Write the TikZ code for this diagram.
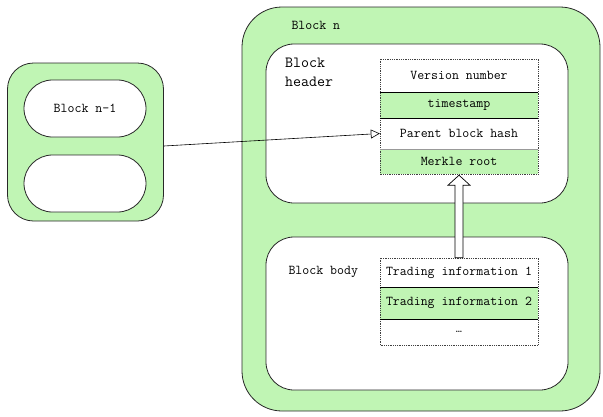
\documentclass[tikz,border=0pt]{standalone}
\usetikzlibrary{arrows.meta,shapes.misc,calc}
\definecolor{blockgreen}{RGB}{192,245,180}
\definecolor{edgegray}{RGB}{40,40,40}
\begin{document}
\begin{tikzpicture}[x=1pt,y=-1pt,
  font=\ttfamily\fontsize{13.5}{18}\selectfont,
  outerbox/.style={draw=edgegray, line width=0.8pt, fill=blockgreen, inner sep=0},
  innerbox/.style={draw=edgegray, line width=0.8pt, fill=white, inner sep=0},
  pill/.style={rounded rectangle, draw=edgegray, line width=0.8pt, fill=white,
    minimum width=122pt, minimum height=57pt, inner sep=0},
  cell/.style={minimum width=158pt, inner sep=0, draw=none},
  greencell/.style={cell, fill=blockgreen},
  tabedge/.style={line width=0.5pt, black!75, dash pattern=on 0.9pt off 0.9pt},
  rowline/.style={line width=0.6pt, black},
  link/.style={line width=0.6pt, -{Triangle[open,length=9pt,width=9pt]}},
  blockarrow/.style={line width=0.7pt, fill=white, line join=miter}
]
\useasboundingbox (0,0) rectangle (603,416);

% previous block
\node[outerbox, rounded corners=26pt, minimum width=156pt, minimum height=158pt] (prev) at (85.5,142) {};
\node[pill] (prevtop) at (85,108.5) {Block n-1};
\node[pill] (prevbot) at (85,183.5) {};

% current block and its two parts
\node[outerbox, rounded corners=40pt, minimum width=358pt, minimum height=404pt] (cur) at (421,209) {};
\node[innerbox, rounded corners=28pt, minimum width=302pt, minimum height=159pt] (header) at (417,123.5) {};
\node[innerbox, rounded corners=28pt, minimum width=302pt, minimum height=153pt] (body) at (417,313.5) {};

\node[anchor=west] (curlabel) at (288,25) {Block n};
\node[anchor=north west, align=left, inner sep=0, font=\ttfamily\fontsize{15.5}{19}\selectfont]
  (headlabel) at (285,58) {Block\\header};
\node[anchor=west] (bodylabel) at (285,272) {Block body};

% header fields
\node[cell, minimum height=33pt] (ver) at (459,75.5) {Version number};
\node[greencell, minimum height=26pt] (ts) at (459,105) {timestamp};
\node[cell, minimum height=31pt] (parent) at (459,133.5) {Parent block hash};
\node[greencell, minimum height=25pt] (merkle) at (459,161.5) {Merkle root};
\draw[tabedge] (ver.north west) rectangle (merkle.south east);
\draw[rowline] (ts.north west) -- (ts.north east);
\draw[rowline] (ts.south west) -- (ts.south east);
\draw[line width=0.4pt, black!40] (merkle.north west) -- (merkle.north east);

% body fields
\node[cell, minimum height=29pt] (tx1) at (459,272.5) {Trading information 1};
\node[greencell, minimum height=32pt] (tx2) at (459,303) {Trading information 2};
\node[cell, minimum height=26pt] (tx3) at (459,332) {\fontsize{12}{12}\selectfont\ldots};
\draw[tabedge] (tx1.north west) rectangle (tx3.south east);
\draw[rowline] (tx2.north west) -- (tx2.north east);
\draw[rowline] (tx2.south west) -- (tx2.south east);

% hash link to the previous block
\draw[link] ($(prev.east)+(0,4)$) -- (parent.west);

% Merkle root computed from the transactions
\draw[blockarrow]
  ($(tx1.north)+(-4,0)$) -- ($(merkle.south)+(-4,11)$) -- ($(merkle.south)+(-11,11)$)
  -- ($(merkle.south)+(0,1)$) -- ($(merkle.south)+(11,11)$) -- ($(merkle.south)+(4,11)$)
  -- ($(tx1.north)+(4,0)$) -- cycle;
\end{tikzpicture}
\end{document}
